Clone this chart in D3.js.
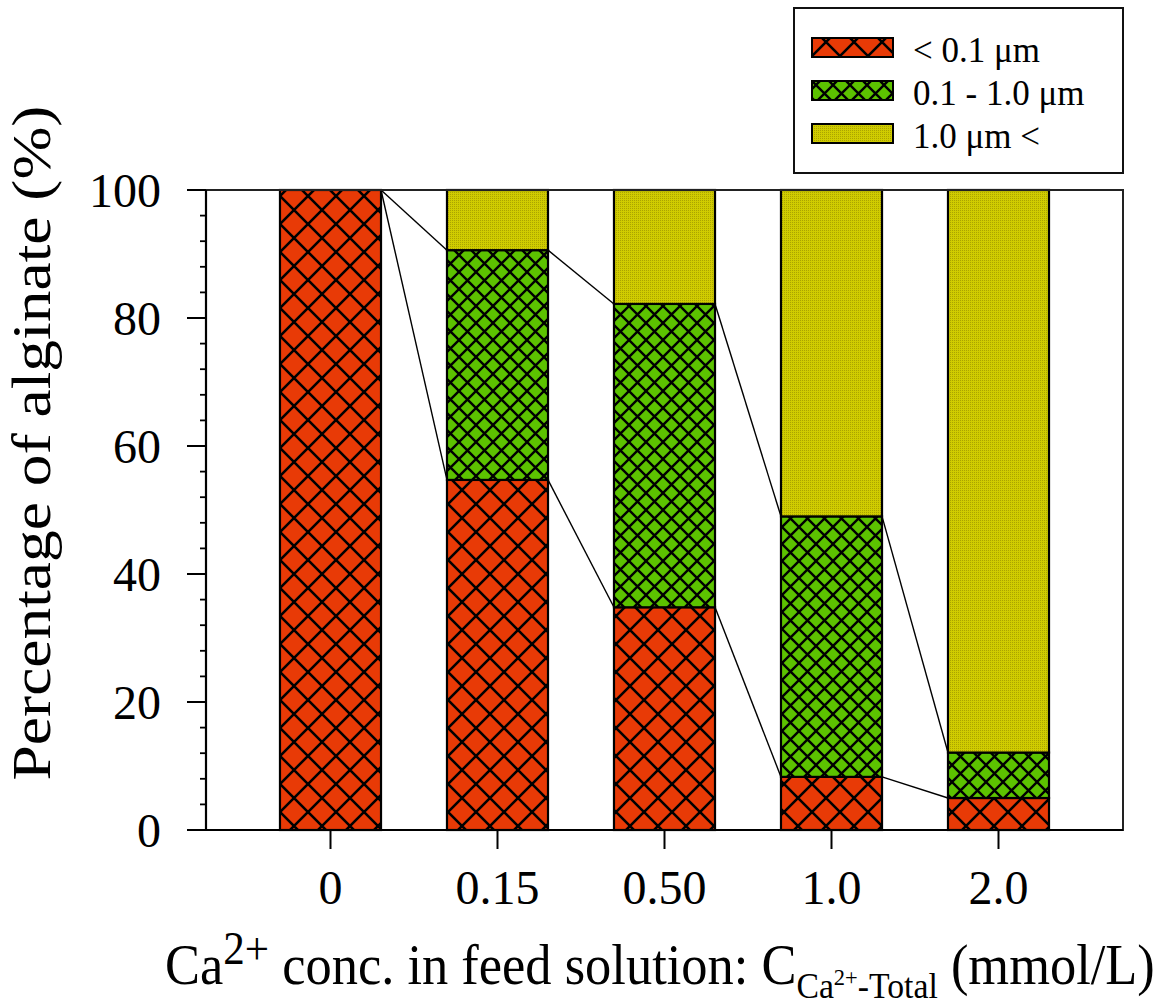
<!DOCTYPE html>
<html><head><meta charset="utf-8">
<script src="https://cdn.jsdelivr.net/npm/d3@7"></script>
<style>html,body{margin:0;padding:0;background:#fff;}svg{display:block;}text{font-family:"Liberation Serif","Times New Roman",serif;fill:#000;}</style>
</head><body>
<svg id="chart" width="1168" height="1007"></svg>
<script>
// ---- data ----
const categories = ["0", "0.15", "0.50", "1.0", "2.0"];
const seriesNames = ["< 0.1 \u03bcm", "0.1 - 1.0 \u03bcm", "1.0 \u03bcm <"];
const smallFraction = [100, 54.7, 34.8, 8.3, 5.0];      // < 0.1 um
const mediumFraction = [0, 35.9, 47.4, 40.7, 7.1];      // 0.1 - 1.0 um
const largeFraction = [0, 9.4, 17.8, 51.0, 87.9];       // 1.0 um <
const yMajorTicks = [0, 20, 40, 60, 80, 100];
const yMinorTicks = d3.range(0, 101, 4);

// ---- layout ----
const svg = d3.select("#chart");
const L = 206, R = 1123, T = 190, B = 830;
const x = d3.scaleBand().domain(categories).range([L, R]).paddingInner(0.395).paddingOuter(0.443);
const y = d3.scaleLinear().domain([0, 100]).range([B, T]);

const keys = ["s", "m", "l"];
const rows = categories.map((c, i) => ({cat: c, s: smallFraction[i], m: mediumFraction[i], l: largeFraction[i]}));
const stacked = d3.stack().keys(keys)(rows);

// ---- patterns ----
const defs = svg.append("defs");
function crossPattern(id, color, p, sw) {
  const pt = defs.append("pattern").attr("id", id).attr("patternUnits", "userSpaceOnUse")
    .attr("width", p).attr("height", p);
  pt.append("rect").attr("width", p).attr("height", p).attr("fill", color);
  const d = `M0,0L${p},${p}M${p},0L0,${p}M${-p/2},${p/2}L${p/2},${3*p/2}M${p/2},${-p/2}L${3*p/2},${p/2}M${p/2},${-p/2}L${-p/2},${p/2}M${3*p/2},${p/2}L${p/2},${3*p/2}`;
  pt.append("path").attr("d", d).attr("stroke", "#000").attr("stroke-width", sw).attr("fill", "none");
}
crossPattern("hatchRed", "#E83A06", 28, 2.6);
crossPattern("hatchGreen", "#5CC200", 17, 2.4);
const yp = defs.append("pattern").attr("id", "dotYellow").attr("patternUnits", "userSpaceOnUse")
  .attr("width", 2).attr("height", 2);
yp.append("rect").attr("width", 2).attr("height", 2).attr("fill", "#D0CC00");
yp.append("rect").attr("width", 1).attr("height", 1).attr("fill", "#ABA400").attr("shape-rendering", "crispEdges");
const fills = {s: "url(#hatchRed)", m: "url(#hatchGreen)", l: "url(#dotYellow)"};

// ---- bars ----
const gBars = svg.append("g");
stacked.forEach(layer => {
  gBars.selectAll(null).data(layer.filter(d => d[1] - d[0] > 0)).enter().append("rect")
    .attr("x", d => x(d.data.cat))
    .attr("width", x.bandwidth())
    .attr("y", d => y(d[1]))
    .attr("height", d => y(d[0]) - y(d[1]))
    .attr("fill", fills[layer.key])
    .attr("stroke", "#000").attr("stroke-width", 2.2);
});

// ---- connecting lines (cumulative boundaries) ----
const cumSmall = smallFraction;
const cumMedium = smallFraction.map((v, i) => v + mediumFraction[i]);
const gLines = svg.append("g");
[cumSmall, cumMedium].forEach(arr => {
  for (let i = 0; i < categories.length - 1; i++) {
    gLines.append("line")
      .attr("x1", x(categories[i]) + x.bandwidth()).attr("y1", y(arr[i]))
      .attr("x2", x(categories[i + 1])).attr("y2", y(arr[i + 1]))
      .attr("stroke", "#000").attr("stroke-width", 1.4);
  }
});

// ---- frame & axes ----
svg.append("rect").attr("x", L).attr("y", T).attr("width", R - L).attr("height", B - T)
  .attr("fill", "none").attr("stroke", "#222").attr("stroke-width", 2);
svg.append("line").attr("x1", L).attr("x2", L).attr("y1", T).attr("y2", B).attr("stroke", "#000").attr("stroke-width", 2.2);
svg.append("line").attr("x1", L).attr("x2", R).attr("y1", B).attr("y2", B).attr("stroke", "#000").attr("stroke-width", 2.2);

const gy = svg.append("g");
gy.selectAll(".minor").data(yMinorTicks.filter(v => !yMajorTicks.includes(v))).enter().append("line")
  .attr("x1", L - 6).attr("x2", L).attr("y1", d => y(d)).attr("y2", d => y(d))
  .attr("stroke", "#000").attr("stroke-width", 1.8);
gy.selectAll(".major").data(yMajorTicks).enter().append("line")
  .attr("x1", L - 19).attr("x2", L).attr("y1", d => y(d)).attr("y2", d => y(d))
  .attr("stroke", "#000").attr("stroke-width", 2);
gy.selectAll(".lab").data(yMajorTicks).enter().append("text")
  .attr("x", 161).attr("y", d => y(d)).attr("dy", "0.36em")
  .attr("text-anchor", "end").attr("font-size", 48).text(d => d);

const gx = svg.append("g");
gx.selectAll(".tick").data(categories).enter().append("line")
  .attr("x1", d => x(d) + x.bandwidth() / 2).attr("x2", d => x(d) + x.bandwidth() / 2)
  .attr("y1", B).attr("y2", B + 19).attr("stroke", "#000").attr("stroke-width", 2);
gx.selectAll(".lab").data(categories).enter().append("text")
  .attr("x", d => x(d) + x.bandwidth() / 2).attr("y", 904)
  .attr("text-anchor", "middle").attr("font-size", 48).text(d => d);

// ---- axis titles ----
const yt = svg.append("text").attr("font-size", 54).attr("text-anchor", "middle")
  .text("Percentage of alginate (%)");
const ytLen = yt.node().getComputedTextLength();
yt.attr("transform", `translate(50,443) rotate(-90) scale(${675 / ytLen},1)`);

const xt = svg.append("text").attr("font-size", 56).attr("text-anchor", "start");
xt.append("tspan").text("Ca");
xt.append("tspan").attr("dy", -20).attr("font-size", 46).text("2+");
xt.append("tspan").attr("dy", 20).attr("font-size", 56).text(" conc. in feed solution: C");
xt.append("tspan").attr("dy", 14).attr("font-size", 36).text("Ca");
xt.append("tspan").attr("dy", -13).attr("font-size", 24).text("2+");
xt.append("tspan").attr("dy", 13).attr("font-size", 36).text("-Total");
xt.append("tspan").attr("dy", -14).attr("font-size", 56).text(" (mmol/L)");
const xtLen = xt.node().getComputedTextLength();
xt.attr("transform", `translate(165,984) scale(${990 / xtLen},1)`);

// ---- legend ----
const lg = svg.append("g");
lg.append("rect").attr("x", 794).attr("y", 8).attr("width", 329).attr("height", 165)
  .attr("fill", "#fff").attr("stroke", "#111").attr("stroke-width", 2);
const legendFills = [fills.s, fills.m, fills.l];
const rowY = [38, 81, 124];
seriesNames.forEach((n, i) => {
  lg.append("rect").attr("x", 812).attr("y", rowY[i]).attr("width", 81).attr("height", 19)
    .attr("fill", legendFills[i]).attr("stroke", "#000").attr("stroke-width", 2);
  lg.append("text").attr("x", 913).attr("y", rowY[i] + 24).attr("font-size", 35).text(n);
});
</script>
</body></html>
